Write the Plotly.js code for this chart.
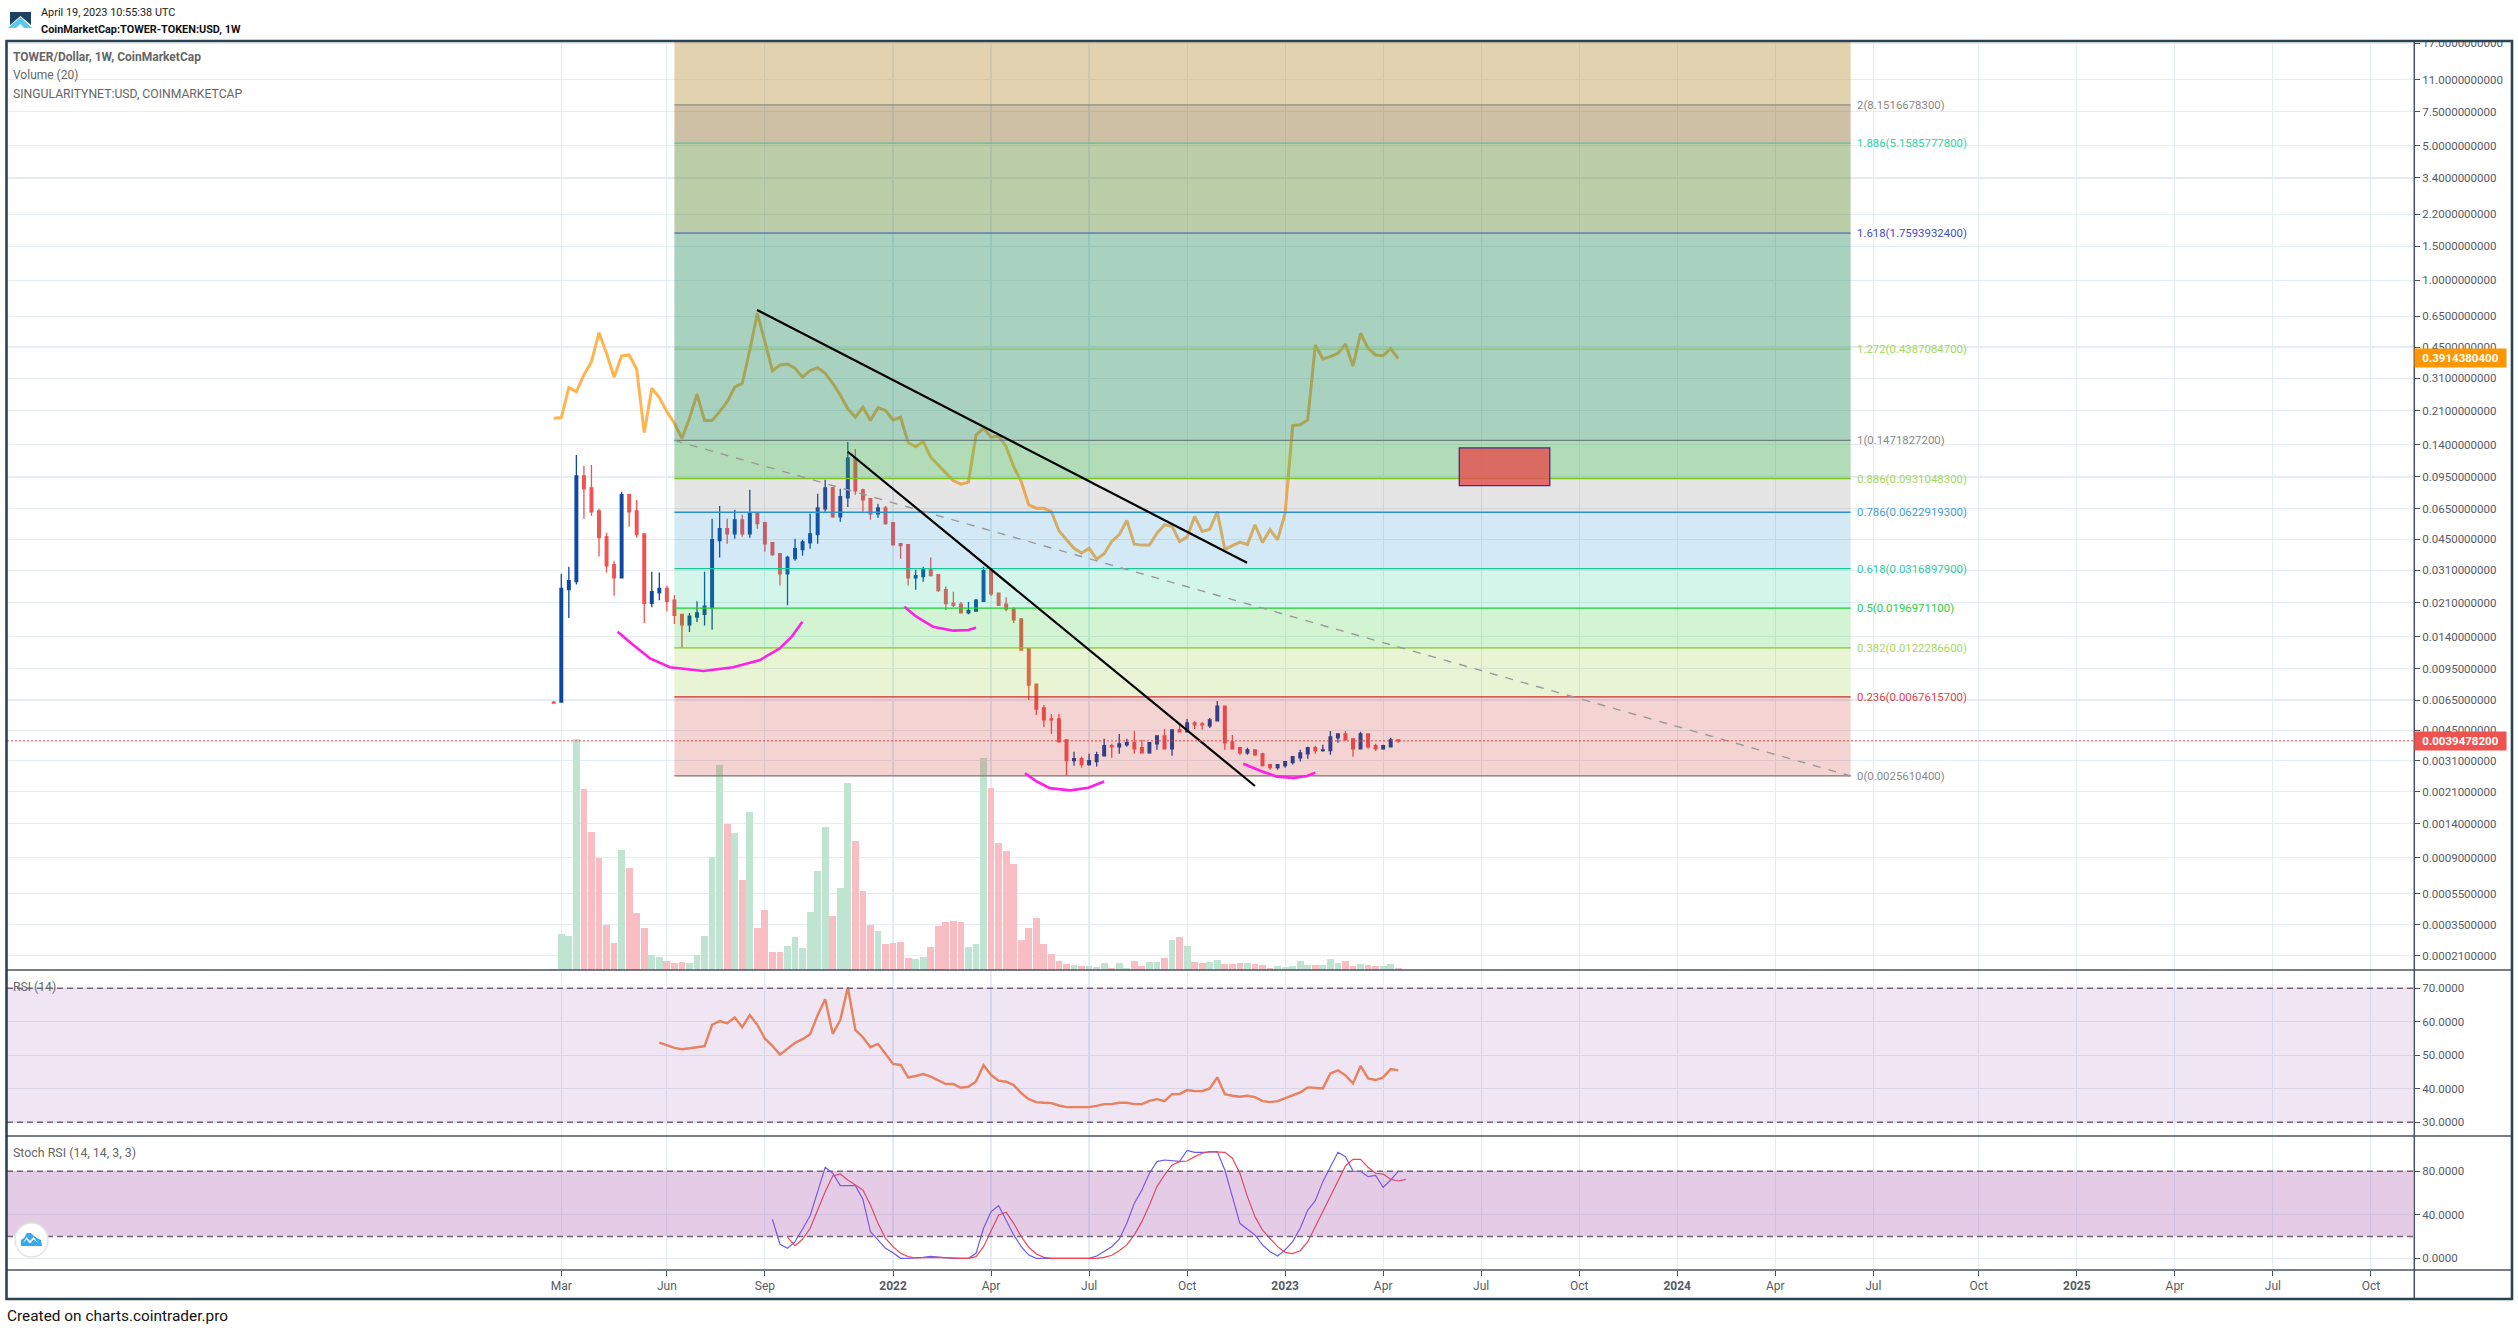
<!DOCTYPE html>
<html><head><meta charset="utf-8">
<script src="https://cdn.plot.ly/plotly-3.0.1.min.js"></script>
<style>html,body{margin:0;padding:0;background:#fff}#c{width:2518px;height:1330px}</style>
</head><body><div id="c"></div>
<script>
// ---- data ----
const firstWeek = -1; // week index 0 = 1 Mar 2021
const opens = [.00634,.00634,.0246,.0271,.0963,.0834,.0633,.0464,.0332,.0284,.0768,.0633,.0481,.0209,.0237,.0250,.0217,.0183,.0161,.0177,.0183,.0199,.0443,.0511,.0481,.0569,.0481,.0618,.0549,.0432,.0379,.0298,.0357,.0398,.0432,.0476,.0649,.0834,.0590,.0741,.1194,.0815,.0732,.0611,.0656,.0549,.0427,.0422,.0284,.0288,.0313,.0295,.0246,.0209,.0207,.0186,.0190,.0214,.0309,.0236,.0207,.0195,.0173,.0121,.00789,.0059,.00516,.00516,.0040,.0031,.00317,.00295,.00306,.00329,.00372,.00367,.00376,.00386,.00363,.00341,.00381,.0042,.00358,.00452,.00441,.00492,.00486,.00474,.00504,.00604,.0039,.00363,.00341,.00354,.00337,.00295,.00284,.00291,.00302,.00321,.00337,.00363,.0035,.0035,.0041,.0043,.00405,.00358,.0043,.00372,.00358,.00367,.0040];
const highs = [.00642,.0298,.0324,.1238,.1085,.1098,.0649,.0487,.0348,.0796,.0777,.0722,.0481,.0305,.0302,.0259,.0231,.0183,.0186,.0214,.0305,.0576,.0672,.0576,.0641,.0604,.0815,.0618,.0556,.0432,.0379,.0370,.0453,.0448,.0611,.0777,.0918,.0844,.0825,.1445,.1329,.0825,.0732,.0689,.0672,.0549,.0432,.0422,.0313,.0324,.0362,.0295,.0256,.0240,.0212,.0212,.0220,.0324,.0313,.0236,.0225,.0199,.0175,.0121,.00789,.00612,.00549,.00549,.0040,.00346,.00325,.00337,.00346,.00405,.00381,.0043,.00405,.00446,.0040,.0039,.0042,.00457,.00452,.0048,.00516,.00504,.00498,.00523,.00642,.00604,.00425,.00367,.00363,.00354,.00341,.00295,.00295,.00306,.00325,.00354,.00367,.00372,.00376,.00446,.0043,.00446,.00405,.00441,.0043,.00381,.00376,.0041,.0040];
const lows = [.00627,.00634,.0175,.0262,.0576,.0597,.0366,.0302,.0229,.0284,.0524,.0459,.0165,.0199,.0217,.0190,.0163,.0122,.0148,.0167,.0160,.0152,.0362,.0427,.0453,.0464,.0459,.0511,.0388,.0370,.0259,.0204,.0348,.0370,.0402,.0427,.0626,.0583,.0556,.0664,.0768,.0626,.0569,.0583,.0536,.0417,.0357,.0259,.0246,.0271,.0288,.0240,.0193,.0199,.0186,.0183,.0190,.0214,.0228,.0204,.0190,.0165,.0119,.0065,.00542,.00468,.0043,.0039,.00256,.00291,.00284,.00291,.00288,.00329,.00321,.00337,.00367,.00337,.00341,.00337,.00354,.00358,.00329,.00441,.00441,.00457,.00452,.00463,.00504,.00354,.00358,.00333,.00333,.00329,.00288,.00277,.00277,.00284,.00295,.00306,.00317,.00337,.00346,.00333,.00386,.0040,.00325,.00358,.00358,.0035,.00354,.00367,.00386];
const closes = [.00627,.0250,.0274,.0963,.0825,.0626,.0459,.0328,.0284,.0768,.0626,.0476,.0209,.0240,.0250,.0214,.0181,.0161,.0179,.0186,.0202,.0448,.0511,.0481,.0569,.0481,.0618,.0543,.0427,.0375,.0298,.0362,.0402,.0437,.0481,.0656,.0834,.0590,.0750,.1194,.0805,.0722,.0611,.0656,.0543,.0422,.0417,.0284,.0291,.0313,.0291,.0243,.0208,.0204,.0186,.0192,.0217,.0309,.0234,.0204,.0195,.0171,.0119,.0078,.00583,.0051,.0051,.0039,.0031,.00317,.00295,.0031,.00333,.00372,.00367,.00381,.00386,.00358,.00341,.00386,.0042,.00358,.00452,.00441,.00492,.0048,.0048,.0051,.00604,.00386,.00358,.00341,.00354,.00333,.00291,.00284,.00295,.00306,.00325,.00341,.00363,.0035,.00354,.00415,.0043,.0040,.00358,.0043,.00367,.00358,.00372,.0040,.00394782];
const volumes = [1,36,34,231,181,138,112,45,27,120,102,57,42,15,13,9,7,8,7,15,34,113,205,146,137,90,158,42,60,18,18,24,33,22,58,99,143,54,82,187,129,79,45,39,26,27,28,12,11,13,23,44,48,49,48,23,26,212,182,127,119,106,30,42,52,26,16,9,6,5,4,4,3,7,2,7,2,9,4,8,8,12,30,33,24,8,7,8,10,6,6,7,7,6,5,2,4,3,4,9,5,5,5,11,7,9,4,6,5,4,4,6,2];
const agixClose = [.192,.1934,.2768,.2639,.3222,.3778,.5343,.4176,.3135,.4044,.4092,.3448,.1615,.2748,.2456,.2077,.1808,.1511,.1919,.2559,.1866,.1866,.2077,.2341,.2783,.2917,.4344,.6736,.48,.3392,.3632,.3674,.3489,.3135,.3392,.3516,.3287,.2917,.2537,.2146,.1943,.2189,.1866,.2179,.2103,.1881,.1943,.1434,.1365,.1451,.1204,.1098,.0994,.0907,.0871,.0893,.1571,.1703,.1529,.1548,.1365,.1075,.0899,.068,.0654,.0654,.0627,.0499,.0448,.0404,.0382,.0404,.0355,.0379,.0439,.0476,.0564,.0425,.042,.042,.0485,.0536,.0526,.0439,.0462,.0592,.0495,.0508,.0627,.0398,.0417,.0435,.0423,.0536,.0434,.0505,.0448,.0616,.1757,.1775,.1881,.4613,.39,.401,.4176,.4668,.3585,.5305,.4431,.4092,.4057,.4412,.39144];
const rsiStart = 13;
const rsiValues = [53.8,53.1,52.2,51.8,52,52.4,52.7,59.1,60.2,59.6,61.3,58.4,62,59.1,55,52.8,50.2,52,53.7,54.8,56.3,62,66.7,56.4,60.5,70.3,57.6,55.4,52.4,53.4,50.3,47.4,47.1,43.4,43.8,44.4,43.6,42.4,41.4,41.4,40.3,40.6,42.2,47.1,44.1,42.4,42.1,41.1,38.7,36.9,36,35.8,35.7,35,34.5,34.5,34.5,34.5,34.9,35.4,35.4,35.8,35.8,35.4,35.4,36.4,36.9,36.3,38.4,38.4,39.6,39.3,39.3,40.1,43.4,38.4,37.9,37.6,37.9,37.5,36.3,36,36.3,37.2,38,38.9,40.4,40.2,40.1,44.6,45.5,44,41.6,46.8,43.1,42.6,43.4,45.9,45.5];
const stochKStart = 28;
const stochK = [35.9,12.9,9.2,15.3,27,39.2,61.3,83.7,78.2,66.8,66.8,66.8,54.3,24.5,16.9,9.2,5.2,0,0,.3,.9,1.8,.9,.3,0,0,0,4.6,27.6,42.9,48.4,35,21.5,10.7,3,0,0,0,0,0,0,0,0,2.1,6.1,10.7,17.5,32.2,50.6,62.8,78.2,88.9,90.4,90.1,89.2,99.3,97.5,97.5,97.8,98.1,81.2,56.7,32.2,26.7,21.5,12.3,6.1,2.1,7.7,15.3,27.6,44.4,53,70.5,84.3,97.5,93.5,80.3,80,75.1,76.3,65.3,72,80];
const stochDStart = 30;
const stochD = [19.3,11.6,17.5,27.6,44.4,61.3,75.7,77.5,72,67.4,62.8,49,32.2,18.4,10.7,4.6,1.5,.3,.6,.9,.9,.6,0,0,0,1.5,10.7,26,39.8,42.3,32.2,19.9,10.1,4,.9,0,0,0,0,0,0,0,.9,2.8,7,12.3,21.5,33.7,49,65.9,76.6,85.8,88.9,89.5,93.5,96.6,98.1,97.8,97.5,92,78.2,56.7,38.3,26,18.4,10.7,5.5,4.3,7,15.3,29.1,42.9,58.2,72,84.9,91,91,83.7,78.2,77.5,72.6,71.1,72.6];

const priceTicks = [17,11,7.5,5,3.4,2.2,1.5,1,.65,.45,.31,.21,.14,.095,.065,.045,.031,.021,.014,.0095,.0065,.0045,.0031,.0021,.0014,.0009,.00055,.00035,.00021];
const rsiTicks = [30,40,50,60,70];
const stochTicks = [0,40,80];
const timeTickWeeks = [0,14,27,44,57,70,83,96,109,122,135,148,161,174,188,201,214,227,240];
const timeTickLabels = ['Mar','Jun','Sep','<b>2022</b>','Apr','Jul','Oct','<b>2023</b>','Apr','Jul','Oct','<b>2024</b>','Apr','Jul','Oct','<b>2025</b>','Apr','Jul','Oct'];

const fibLevels = ['2','1.886','1.618','1.272','1','0.886','0.786','0.618','0.5','0.382','0.236','0'];
const fibPrices = [8.15166783,5.15857778,1.75939324,.43870847,.14718272,.09310483,.06229193,.03168979,.01969711,.01222866,.00676157,.00256104];
const fibLineColors = ['#7d7d7d','#27c79c','#3f4fb5','#85c440','#70807a','#7ec51e','#2b8fd0','#1cc49a','#22cc33','#84c81e','#c73030','#857070'];
const fibLineWidths = [1,1,1,1,1.2,1.3,1.3,1.3,1.3,1.3,1.3,1.3];
const fibTextColors = ['#8a8a8a','#30d3a6','#3f4fc5','#a4d958','#8a8a8a','#a4d958','#409fd8','#30c9a2','#2ecc40','#a4d958','#da444c','#8a8a8a'];
const fibWeekStart = 15, fibWeekEnd = 171;
// zones from top of chart downward
const zoneUpper = [30,8.15166783,5.15857778,1.75939324,.14718272,.09310483,.06229193,.03168979,.01969711,.01222866,.00676157];
const zoneLower = [8.15166783,5.15857778,1.75939324,.14718272,.09310483,.06229193,.03168979,.01969711,.01222866,.00676157,.00256104];
const zoneFills = ['rgba(185,142,57,.4)','rgba(130,97,30,.4)','rgba(87,130,42,.4)','rgba(38,140,98,.4)','rgba(62,167,77,.4)','rgba(125,125,125,.2)','rgba(35,145,205,.2)','rgba(35,205,150,.2)','rgba(35,200,35,.2)','rgba(140,200,35,.2)','rgba(200,35,35,.2)'];

const trendWeeks = [[25.95,90.95],[38,92]];
const trendPrices = [[.701,.0340],[.1285,.00226]];
const dashedWeeks = [15,171];
const dashedPrices = [.14718272,.00256104];
const boxWeeks = [119.1,131.1];
const boxPrices = [.1345,.0856];
const curveWeeks = [
 [7.47,9.55,11.76,14.42,18.84,22.8,26.35,29,30.56,31.97],
 [45.5,47.1,49.3,52,54,55],
 [61.5,63.05,64.8,67.5,69.9,72],
 [90.45,92.7,94.9,97.1,98.9,100]];
const curvePrices = [
 [.01484,.01265,.01077,.00967,.00924,.00967,.01055,.01216,.01398,.01675],
 [.02005,.01778,.01577,.01503,.01515,.01558],
 [.00265,.00239,.0022,.00214,.00221,.00239],
 [.00298,.00273,.00254,.0025,.00256,.00267]];
const lastPrice = .00394782, lastAgix = .39143804;

// ---- the price scale of the source compresses very low prices ----
const OFFSET = 1e-4;
const sh = p => p + OFFSET;
const lg = p => Math.log10(p + OFFSET);
const W = 2518, H = 1330;
const X = x => x / W, Y = y => 1 - y / H;
const seq = (start, n) => Array.from({length:n}, (_, i) => start + i);
const weeks = seq(firstWeek, opens.length);

const traces = [
 {type:'bar', x:weeks, y:volumes, yaxis:'y4', xaxis:'x', width:.9,
  marker:{color:weeks.map((_,i)=>closes[i]>=opens[i]?'#bfe5d2':'#f8bec4'),line:{width:0}}, hoverinfo:'skip', showlegend:false},
 {type:'scatter', mode:'lines', x:weeks, y:agixClose.map(sh), xaxis:'x', yaxis:'y',
  line:{color:'#ffb54f',width:3}, hoverinfo:'skip', showlegend:false},
 {type:'candlestick', x:weeks, open:opens.map(sh), high:highs.map(sh), low:lows.map(sh), close:closes.map(sh),
  xaxis:'x', yaxis:'y', whiskerwidth:0,
  increasing:{line:{color:'#0d47a1',width:1.3},fillcolor:'#0d47a1'},
  decreasing:{line:{color:'#ef5350',width:1.3},fillcolor:'#ef5350'},
  hoverinfo:'skip', showlegend:false},
 {type:'scatter', mode:'lines', x:seq(rsiStart,rsiValues.length), y:rsiValues, xaxis:'x', yaxis:'y2',
  line:{color:'#f58a52',width:2.4}, hoverinfo:'skip', showlegend:false},
 {type:'scatter', mode:'lines', x:seq(stochKStart,stochK.length), y:stochK, xaxis:'x', yaxis:'y3',
  line:{color:'#6a5cf2',width:1.2}, hoverinfo:'skip', showlegend:false},
 {type:'scatter', mode:'lines', x:seq(stochDStart,stochD.length), y:stochD, xaxis:'x', yaxis:'y3',
  line:{color:'#ef4656',width:1.2}, hoverinfo:'skip', showlegend:false}
];

const shapes = [];
const add = s => shapes.push(Object.assign({layer:'above'}, s));
const pline = (x0,y0,x1,y1,color,width,dash) => add({type:'line',xref:'paper',yref:'paper',x0:X(x0),x1:X(x1),y0:Y(y0),y1:Y(y1),line:{color,width,dash:dash||'solid'}});

// fib zones
zoneFills.forEach((f,i)=>add({type:'rect',xref:'x',yref:'y',x0:fibWeekStart,x1:fibWeekEnd,y0:sh(zoneLower[i]),y1:sh(zoneUpper[i]),fillcolor:f,line:{width:0}}));
// fib levels
fibPrices.forEach((p,i)=>add({type:'line',xref:'x',yref:'y',x0:fibWeekStart,x1:fibWeekEnd,y0:sh(p),y1:sh(p),line:{color:fibLineColors[i],width:fibLineWidths[i]}}));
// red box
add({type:'rect',xref:'x',yref:'y',x0:boxWeeks[0],x1:boxWeeks[1],y0:sh(boxPrices[1]),y1:sh(boxPrices[0]),fillcolor:'rgba(228,80,80,.82)',line:{color:'#3b2f8f',width:1.3}});
// dashed fib trend
add({type:'line',xref:'x',yref:'y',x0:dashedWeeks[0],x1:dashedWeeks[1],y0:sh(dashedPrices[0]),y1:sh(dashedPrices[1]),line:{color:'#9a9a9a',width:1.4,dash:'8px,8px'}});
// trend lines
trendWeeks.forEach((w,i)=>add({type:'line',xref:'x',yref:'y',x0:w[0],x1:w[1],y0:sh(trendPrices[i][0]),y1:sh(trendPrices[i][1]),line:{color:'#000',width:2.2}}));
// hand-drawn curves
curveWeeks.forEach((w,i)=>add({type:'path',xref:'x',yref:'y',fillcolor:'rgba(0,0,0,0)',line:{color:'#ff1fe6',width:2.6},
  path:w.map((v,j)=>(j?'L':'M')+v.toFixed(3)+','+sh(curvePrices[i][j]).toFixed(6)).join(' ')}));
// last price line
add({type:'line',xref:'paper',yref:'y',x0:X(7),x1:X(2414),y0:sh(lastPrice),y1:sh(lastPrice),line:{color:'#e0413f',width:1,dash:'2px,2px'}});
// indicator bands
add({type:'rect',xref:'paper',yref:'y2',x0:X(7),x1:X(2413),y0:30,y1:70,fillcolor:'rgba(155,82,168,.15)',line:{width:0}});
add({type:'rect',xref:'paper',yref:'y3',x0:X(7),x1:X(2413),y0:20,y1:80,fillcolor:'rgba(168,85,172,.3)',line:{width:0}});
[[ 'y2',30],['y2',70],['y3',20],['y3',80]].forEach(([ya,v])=>add({type:'line',xref:'paper',yref:ya,x0:X(7),x1:X(2413),y0:v,y1:v,line:{color:'#75627a',width:1.4,dash:'6px,4px'}}));
// panel separators and axis lines
pline(7,970,2511,970,'#4c525e',1.5);
pline(7,1136,2511,1136,'#4c525e',1.5);
pline(7,1270,2511,1270,'#4c525e',1.5);
pline(2414.3,42,2414.3,1298,'#4c525e',1.5);
// mask clipping the top tick label, then frame
add({type:'rect',xref:'paper',yref:'paper',x0:X(2416),x1:X(2510),y0:Y(41.5),y1:Y(25),fillcolor:'#fff',line:{width:0}});
add({type:'rect',xref:'paper',yref:'paper',x0:X(6.5),x1:X(2512),y0:Y(1299),y1:Y(41),fillcolor:'rgba(0,0,0,0)',line:{color:'#2a4456',width:2.6}});
// logos
const pth = (pts,fill) => add({type:'path',xref:'paper',yref:'paper',fillcolor:fill,line:{width:0},
  path:pts.map((p,i)=>(i?'L':'M')+X(p[0]).toFixed(6)+','+Y(p[1]).toFixed(6)).join(' ')+' Z'});
pth([[10,12],[31,12],[31,25],[20.5,16],[10,25]],'#1b4263');
pth([[8,28],[20.5,17],[32,28],[24,28],[20.5,24],[16,28]],'#5cc8f0');
add({type:'circle',xref:'paper',yref:'paper',x0:X(15),x1:X(48),y0:Y(1257),y1:Y(1223),fillcolor:'#fff',line:{color:'#e4e4e4',width:1.5}});
pth([[21,1246],[21,1240],[24,1238],[27,1233],[31,1233],[34,1236],[37,1238],[41,1240],[42,1246]],'#35a8f0');
pth([[23,1243],[26.5,1237],[30,1241],[33.5,1237],[38,1243],[33.5,1239.5],[30,1243.5],[26.5,1239.5]],'#fff');

const textColor = '#555b66';
const tickFont = {family:'Roboto, sans-serif',size:11.5,color:textColor};
const annotations = [];
const txt = (x,y,t,font,extra) => annotations.push(Object.assign({xref:'paper',yref:'paper',x:X(x),y:Y(y),text:t,showarrow:false,xanchor:'left',yanchor:'middle',align:'left',font,borderpad:0},extra||{}));
txt(40,13,'April 19, 2023 10:55:38 UTC',{family:'Roboto',size:10.9,color:'#222'});
txt(40,29.5,'<b>CoinMarketCap:TOWER-TOKEN:USD, 1W</b>',{family:'Roboto',size:10.9,color:'#111'});
txt(12,57,'<b>TOWER/Dollar, 1W, CoinMarketCap</b>',{family:'Roboto',size:12,color:'#666'});
txt(12,75,'Volume (20)',{family:'Roboto',size:12,color:'#666'});
txt(12,94,'SINGULARITYNET:USD, COINMARKETCAP',{family:'Roboto',size:12.2,color:'#666'});
txt(12,987,'RSI (14)',{family:'Roboto',size:12.2,color:'#666'});
txt(12,1152,'Stoch RSI (14, 14, 3, 3)',{family:'Roboto',size:12.4,color:'#666'});
txt(6,1316,'Created on charts.cointrader.pro',{family:'Roboto',size:15.4,color:'#111'});
fibLevels.forEach((l,i)=>annotations.push({xref:'x',yref:'y',x:171.7,y:lg(fibPrices[i]),xanchor:'left',yanchor:'middle',showarrow:false,
  text:l+'('+fibPrices[i].toFixed(10)+')',font:{family:'Roboto',size:11.4,color:fibTextColors[i]},borderpad:0}));
const flag = (y,color,t)=>annotations.push({xref:'paper',yref:'paper',x:X(2414),y:Y(y),xanchor:'left',yanchor:'middle',showarrow:false,width:91,height:18,align:'center',
  bgcolor:color,text:'<b>'+t+'</b>',font:{family:'Roboto',size:11.5,color:'#fff'},borderpad:0});
flag(358,'#ff9800',lastAgix.toFixed(10));
flag(741,'#ef5350',lastPrice.toFixed(10));

const grid = '#e4edf3';
const layout = {
 width:W,height:H,autosize:false,paper_bgcolor:'#fff',plot_bgcolor:'#fff',showlegend:false,
 margin:{l:0,r:0,t:0,b:0,pad:0},boxgap:.5,bargap:0,dragmode:false,hovermode:false,
 xaxis:{domain:[X(7),X(2414)],range:[(7-561.3)/7.54,(2414-561.3)/7.54],anchor:'y3',type:'linear',tickmode:'array',
  tickvals:timeTickWeeks,ticktext:timeTickLabels,ticks:'outside',ticklen:5,tickwidth:1,tickcolor:'#4c525e',tickfont:{family:'Roboto',size:12,color:textColor},
  showgrid:true,gridcolor:grid,gridwidth:1.2,zeroline:false,showline:false,rangeslider:{visible:false}},
 yaxis:{domain:[Y(970),Y(42)],type:'log',range:[-3.5829,1.2379],side:'right',anchor:'x',tickmode:'array',
  tickvals:priceTicks.map(sh),ticktext:priceTicks.map(t=>t.toFixed(10)),ticks:'outside',ticklen:5,tickwidth:1,tickcolor:'#4c525e',tickfont:tickFont,
  showgrid:true,gridcolor:grid,gridwidth:1.2,zeroline:false,showline:false},
 yaxis2:{domain:[Y(1136.3),Y(970)],range:[25.8,75.46],side:'right',anchor:'x',tickmode:'array',tickvals:rsiTicks,ticktext:rsiTicks.map(t=>t.toFixed(4)),
  ticks:'outside',ticklen:5,tickwidth:1,tickcolor:'#4c525e',tickfont:tickFont,showgrid:true,gridcolor:grid,gridwidth:1.2,zeroline:false,showline:false},
 yaxis3:{domain:[Y(1270),Y(1136.3)],range:[-10.76,112.2],side:'right',anchor:'x',tickmode:'array',tickvals:stochTicks,ticktext:stochTicks.map(t=>t.toFixed(4)),
  ticks:'outside',ticklen:5,tickwidth:1,tickcolor:'#4c525e',tickfont:tickFont,showgrid:true,gridcolor:grid,gridwidth:1.2,zeroline:false,showline:false},
 yaxis4:{overlaying:'y',side:'left',anchor:'x',range:[0,928],visible:false,showgrid:false,zeroline:false},
 shapes,annotations
};
Plotly.newPlot('c',traces,layout,{staticPlot:true,displayModeBar:false});
</script></body></html>
